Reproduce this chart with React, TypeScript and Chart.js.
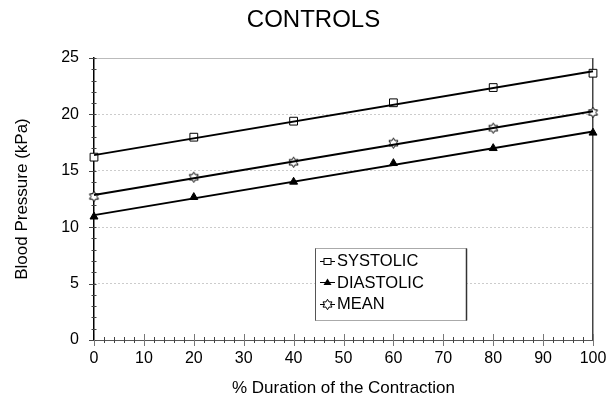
import { useEffect, useRef } from 'react';
import { Chart, registerables } from 'chart.js';

Chart.register(...registerables);

// ---- data ----
const durationPct = [0, 20, 40, 60, 80, 100];
const systolic = [16.21, 17.98, 19.4, 21.03, 22.38, 23.65];
const diastolic = [10.93, 12.66, 14.02, 15.67, 17.0, 18.37];
const meanBP = [12.72, 14.43, 15.76, 17.45, 18.78, 20.17];

// fitted (trend) lines, endpoints
const trendX = [0, 100];
const systolicTrend = [16.39, 23.83];
const diastolicTrend = [11.07, 18.49];
const meanTrend = [12.85, 20.27];

const seriesLabels = ['SYSTOLIC', 'DIASTOLIC', 'MEAN'];
const chartTitle = 'CONTROLS';
const xTitle = '% Duration of the Contraction';
const yTitle = 'Blood Pressure (kPa)';
const xRange = [0, 100];
const yRange = [0, 25];

const FONT = '"Liberation Sans", Arial, Helvetica, sans-serif';

function makeHexagram(): HTMLCanvasElement {
  const c = document.createElement('canvas');
  c.width = 13;
  c.height = 13;
  const g = c.getContext('2d')!;
  const cx = 6.5, cy = 6.5, r = 5.2;
  g.beginPath();
  for (let i = 0; i < 12; i++) {
    const a = -Math.PI / 2 + (i * Math.PI) / 6;
    const rr = i % 2 === 0 ? r : r / Math.sqrt(3);
    const px = cx + Math.cos(a) * rr;
    const py = cy + Math.sin(a) * rr;
    if (i === 0) g.moveTo(px, py);
    else g.lineTo(px, py);
  }
  g.closePath();
  g.fillStyle = '#fff';
  g.fill();
  g.lineWidth = 1;
  g.strokeStyle = '#000';
  g.stroke();
  return c;
}

function pts(xs: number[], ys: number[]) {
  return xs.map((x, i) => ({ x, y: ys[i] }));
}

export default function App() {
  const ref = useRef<HTMLCanvasElement | null>(null);

  useEffect(() => {
    if (!ref.current) return;
    const star = makeHexagram();

    const markerStyles: any[] = [
      { pointStyle: 'rect', radius: 5.5, bg: '#fff' },
      { pointStyle: 'triangle', radius: 4.6, bg: '#000' },
      { pointStyle: star, radius: 6, bg: '#fff' },
    ];

    const minorTicks = {
      id: 'minorTicks',
      beforeDatasetsDraw(chart: any) {
        const { ctx, chartArea } = chart;
        const xs = chart.scales.x;
        const ys = chart.scales.y;
        ctx.save();
        ctx.strokeStyle = '#444';
        ctx.lineWidth = 1;
        // y minor ticks every 1 unit
        for (let v = yRange[0]; v <= yRange[1]; v++) {
          const py = Math.round(ys.getPixelForValue(v)) + 0.5;
          ctx.beginPath();
          const l = v % 5 === 0 ? 5 : 2.5;
          ctx.moveTo(chartArea.left - l, py);
          ctx.lineTo(chartArea.left + 2.5, py);
          ctx.stroke();
        }
        // x ticks every 2 units, longer at 10s
        for (let v = xRange[0]; v <= xRange[1]; v += 2) {
          const px = Math.round(xs.getPixelForValue(v)) + 0.5;
          const l = v % 10 === 0 ? 6 : 3;
          ctx.strokeStyle = v % 10 === 0 ? '#777' : '#444';
          ctx.beginPath();
          ctx.moveTo(px, chartArea.bottom - l);
          ctx.lineTo(px, chartArea.bottom + l);
          ctx.stroke();
        }
        ctx.restore();
      },
    };

    const overlay = {
      id: 'overlay',
      afterDraw(chart: any) {
        const { ctx } = chart;
        ctx.save();
        // title
        ctx.fillStyle = '#000';
        ctx.font = `24px ${FONT}`;
        ctx.textAlign = 'center';
        ctx.textBaseline = 'alphabetic';
        ctx.fillText(chartTitle, 313.5, 27);

        // legend box
        const bx = 315.5, by = 248.5, bw = 151, bh = 72;
        ctx.fillStyle = '#fff';
        ctx.fillRect(bx, by, bw, bh);
        ctx.strokeStyle = '#555';
        ctx.lineWidth = 1;
        ctx.setLineDash([1, 1]);
        ctx.beginPath();
        ctx.moveTo(bx, by);
        ctx.lineTo(bx + bw, by);
        ctx.moveTo(bx, by + bh);
        ctx.lineTo(bx + bw, by + bh);
        ctx.stroke();
        ctx.setLineDash([]);
        ctx.beginPath();
        ctx.moveTo(bx, by);
        ctx.lineTo(bx, by + bh);
        ctx.stroke();
        ctx.strokeStyle = '#333';
        ctx.lineWidth = 1.5;
        ctx.beginPath();
        ctx.moveTo(bx + bw, by);
        ctx.lineTo(bx + bw, by + bh);
        ctx.stroke();

        const rowY = [260.5, 282, 303.5];
        ctx.font = `16.5px ${FONT}`;
        ctx.textAlign = 'left';
        ctx.textBaseline = 'middle';
        seriesLabels.forEach((lab, i) => {
          const y = rowY[i];
          ctx.strokeStyle = '#000';
          ctx.lineWidth = 1;
          ctx.beginPath();
          ctx.moveTo(320, Math.round(y) + 0.5);
          ctx.lineTo(335, Math.round(y) + 0.5);
          ctx.stroke();
          const mx = 327.5, my = Math.round(y) + 0.5;
          const ms = markerStyles[i];
          if (ms.pointStyle === 'rect') {
            ctx.fillStyle = '#fff';
            ctx.fillRect(mx - 3.5, my - 3, 7, 6);
            ctx.strokeRect(mx - 3.5, my - 3, 7, 6);
          } else if (ms.pointStyle === 'triangle') {
            ctx.fillStyle = '#000';
            ctx.beginPath();
            ctx.moveTo(mx, my - 4);
            ctx.lineTo(mx + 4, my + 2.5);
            ctx.lineTo(mx - 4, my + 2.5);
            ctx.closePath();
            ctx.fill();
          } else {
            ctx.drawImage(star, mx - star.width / 2, my - star.height / 2);
          }
          ctx.fillStyle = '#000';
          ctx.fillText(lab, 337, y + 1);
        });
        ctx.restore();
      },
    };

    const seriesValues = [systolic, diastolic, meanBP];
    const trends = [systolicTrend, diastolicTrend, meanTrend];

    const datasets: any[] = [];
    trends.forEach((t, i) => {
      datasets.push({
        type: 'line',
        label: seriesLabels[i] + ' fit',
        data: pts(trendX, t),
        borderColor: '#000',
        borderWidth: 2,
        pointRadius: 0,
        showLine: true,
        fill: false,
        clip: false,
      });
    });
    seriesValues.forEach((vals, i) => {
      const ms = markerStyles[i];
      datasets.push({
        type: 'scatter',
        label: seriesLabels[i],
        data: pts(durationPct, vals),
        pointStyle: ms.pointStyle,
        pointRadius: ms.radius,
        pointBackgroundColor: ms.bg,
        pointBorderColor: '#000',
        pointBorderWidth: 1,
        showLine: false,
        clip: false,
      });
    });

    const chart = new Chart(ref.current, {
      type: 'scatter',
      data: { datasets },
      options: {
        animation: false,
        responsive: false,
        devicePixelRatio: 1,
        events: [],
        layout: {
          padding: { left: 0, right: 23, top: 58, bottom: 0 },
          autoPadding: false,
        },
        plugins: {
          legend: { display: false },
          title: { display: false },
          tooltip: { enabled: false },
        },
        scales: {
          x: {
            type: 'linear',
            min: xRange[0],
            max: xRange[1],
            afterFit: (s: any) => {
              s.height = 61;
            },
            ticks: {
              stepSize: 10,
              font: { family: FONT, size: 16 },
              color: '#000',
              padding: 9,
              maxRotation: 0,
              autoSkip: false,
            },
            grid: {
              drawTicks: false,
              color: (c: any) =>
                c.tick && c.tick.value === xRange[1] ? '#444' : 'rgba(0,0,0,0)',
              lineWidth: 1.5,
            },
            border: { display: true, color: '#555', width: 1 },
            title: {
              display: true,
              text: xTitle,
              color: '#000',
              font: { family: FONT, size: 17 },
              padding: { top: 0, bottom: 2 },
            },
          },
          y: {
            type: 'linear',
            min: yRange[0],
            max: yRange[1],
            afterFit: (s: any) => {
              s.width = 94;
            },
            ticks: {
              stepSize: 5,
              font: { family: FONT, size: 16 },
              color: '#000',
              padding: 15,
            },
            grid: {
              drawTicks: false,
              color: (c: any) =>
                c.tick && c.tick.value === yRange[1] ? '#777' : '#999',
              lineWidth: 1,
            },
            border: {
              display: true,
              color: '#000',
              width: 1.5,
              dash: (c: any) => (c.tick && c.tick.value === yRange[1] ? [1, 1] : [1, 3]),
            },
            title: {
              display: true,
              text: yTitle,
              color: '#000',
              font: { family: FONT, size: 17 },
              padding: { top: 12, bottom: 0 },
            },
          },
        },
      },
      plugins: [minorTicks, overlay],
    } as any);

    return () => chart.destroy();
  }, []);

  return (
    <div style={{ position: 'absolute', left: 0, top: 0, width: 616, height: 401, background: '#fff' }}>
      <canvas ref={ref} width={616} height={401} style={{ display: 'block' }} />
    </div>
  );
}
